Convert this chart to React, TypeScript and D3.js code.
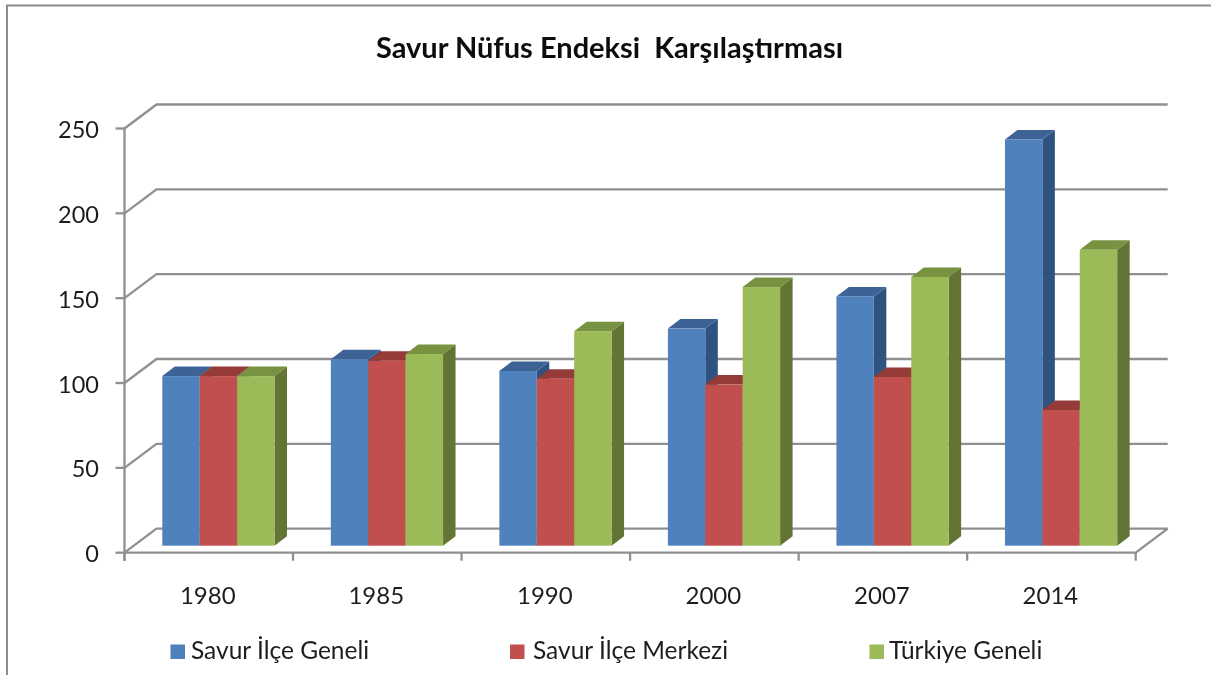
import React from "react";
import * as d3 from "d3";

const categories = ["1980", "1985", "1990", "2000", "2007", "2014"];
const seriesNames = ["Savur İlçe Geneli", "Savur İlçe Merkezi", "Türkiye Geneli"];
const ilceGeneli = [100, 110, 103, 128, 147, 239.5];
const ilceMerkezi = [100, 109, 98.5, 95, 99.5, 80];
const turkiyeGeneli = [100, 113, 126.5, 152.5, 158.5, 174.5];
const yTicks = [0, 50, 100, 150, 200, 250];

const FRONT = ["#4f81bd", "#c0504d", "#9bbb59"];
const TOP = ["#3c6396", "#953a38", "#77923f"];
const SIDE = ["#2f5280", "#7b2f2d", "#637535"];
const GRID = "#909090";
const FONT = "Lato, 'Open Sans', sans-serif";
const TEXT = "#1f1f1f";

export default function App() {
  const x = d3.scaleBand<string>().domain(categories).range([124.5, 1135.7]);
  const y = d3.scaleLinear().domain([0, 250]).range([552.7, 128.5]);
  const barY = d3.scaleLinear().domain([0, 250]).range([545.7, 121.7]);
  const all = [ilceGeneli, ilceMerkezi, turkiyeGeneli];
  const dx = 32;
  const dy = -24;
  const bdx = 12.5;
  const bdy = -9.5;
  const barW = 37.4;
  const barOffset = 37.8;
  const xL = x.range()[0];
  const xR = x.range()[1];
  const legendSwatchX = [170.5, 510, 869.5];
  const legendTextX = [191, 533, 889];
  const lw = 2.3;

  return (
    <svg width={1211} height={675} style={{ position: "absolute", left: 0, top: 0 }} xmlns="http://www.w3.org/2000/svg">
      <defs>
        <filter id="soft" x="-2%" y="-2%" width="104%" height="104%">
          <feGaussianBlur stdDeviation="0.5" />
        </filter>
      </defs>
      <rect width={1211} height={675} fill="#fff" />
      <g filter="url(#soft)">
        <path d="M7,675V5.5H1211" fill="none" stroke="#8c8c8c" strokeWidth={2} />
        <text x={609.5} y={58} textAnchor="middle" fontFamily={FONT} fontWeight={700} fontSize={29} fill="#0d0d0d" style={{ whiteSpace: "pre" }}>
          {"Savur Nüfus Endeksi  Karşılaştırması"}
        </text>

        {yTicks.map((t) => (
          <path
            key={t}
            d={`M${xL},${y(t)}L${xL + dx},${y(t) + dy}H${xR + dx}`}
            fill="none"
            stroke={GRID}
            strokeWidth={lw}
          />
        ))}
        <path d={`M${xL},${y(250)}V${y(0) + 8}`} fill="none" stroke={GRID} strokeWidth={lw} />
        <path d={`M${xL},${y(0)}H${xR}L${xR + dx},${y(0) + dy}`} fill="none" stroke={GRID} strokeWidth={lw} />
        {yTicks.map((t) => (
          <path key={t} d={`M${xL - 9},${y(t)}H${xL}`} stroke={GRID} strokeWidth={lw} />
        ))}
        {yTicks.map((t) => (
          <text key={t} x={99} y={y(t) + 9.5} textAnchor="end" fontFamily={FONT} fontSize={23.5} fill={TEXT}>
            {t}
          </text>
        ))}
        {categories.map((c) => (
          <path key={c} d={`M${x(c)},${y(0)}v8`} stroke={GRID} strokeWidth={lw} />
        ))}
        <path d={`M${xR},${y(0)}v8`} stroke={GRID} strokeWidth={lw} />
        {categories.map((c) => (
          <text key={c} x={x(c)! + x.bandwidth() / 2 - 1} y={603.5} textAnchor="middle" fontFamily={FONT} fontSize={24} fill={TEXT}>
            {c}
          </text>
        ))}

        {categories.map((c, i) =>
          all.map((s, k) => {
            const x0 = x(c)! + barOffset + k * barW;
            const x1 = x0 + barW;
            const yT = barY(s[i]);
            const yB = barY(0);
            return (
              <g key={c + k}>
                <path d={`M${x1},${yT}l${bdx},${bdy}V${yB + bdy}l${-bdx},${-bdy}Z`} fill={SIDE[k]} />
                <path d={`M${x0},${yT}l${bdx},${bdy}H${x1 + bdx}l${-bdx},${-bdy}Z`} fill={TOP[k]} />
                <rect x={x0} y={yT} width={barW} height={yB - yT} fill={FRONT[k]} />
              </g>
            );
          })
        )}

        {seriesNames.map((n, k) => (
          <g key={n}>
            <rect x={legendSwatchX[k]} y={644.5} width={14.5} height={14.5} fill={FRONT[k]} />
            <text x={legendTextX[k]} y={659} fontFamily={FONT} fontSize={24.5} fill={TEXT}>
              {n}
            </text>
          </g>
        ))}
      </g>
    </svg>
  );
}
